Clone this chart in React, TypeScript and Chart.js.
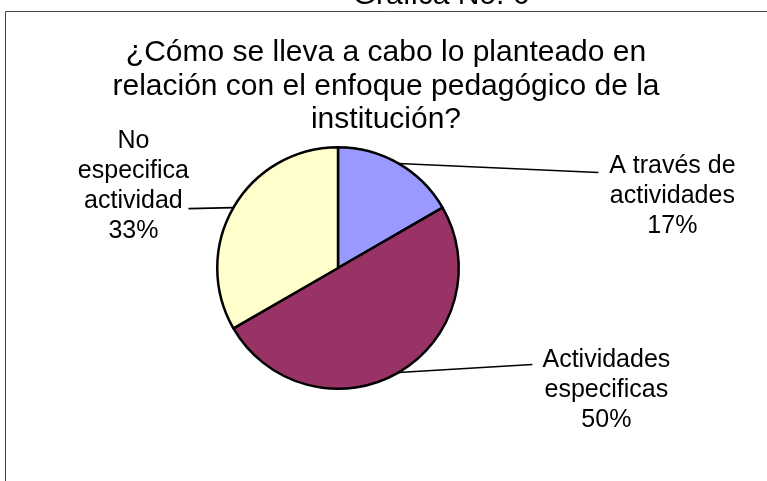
import React, { useEffect, useRef } from "react";
import { Chart, registerables } from "chart.js";

Chart.register(...registerables);

const categories: string[][] = [
  ["A través de", "actividades"],
  ["Actividades", "especificas"],
  ["No", "especifica", "actividad"],
];
const values: number[] = [1, 3, 2];
const sliceColors: string[] = ["#9999FF", "#993366", "#FFFFCC"];
const titleLines: string[] = [
  "¿Cómo se lleva a cabo lo planteado en",
  "relación con el enfoque pedagógico de la",
  "institución?",
];
const headerText = "Gráfica No. 6";

// leader / label layout relative to each slice's rim midpoint
const labelLayout = [
  { leadDx: 200, leadDy: 9, textDx: 74, baseDy: 1 },
  { leadDx: 134, leadDy: -8, textDx: 74, baseDy: 2 },
  { leadDx: -45, leadDy: 1, textDx: -55, baseDy: -61 },
];

const FONT = '"Liberation Sans", Arial, sans-serif';

const decorPlugin = {
  id: "decor",
  afterDraw(chart: any) {
    const ctx = chart.ctx as CanvasRenderingContext2D;
    const W = chart.width;
    const H = chart.height;
    ctx.save();
    // frame
    ctx.strokeStyle = "#444444";
    ctx.lineWidth = 1;
    ctx.beginPath();
    ctx.moveTo(5.5, H);
    ctx.lineTo(5.5, 11.5);
    ctx.lineTo(W, 11.5);
    ctx.stroke();

    // header (cut off at top)
    ctx.fillStyle = "#000";
    ctx.textAlign = "center";
    ctx.textBaseline = "alphabetic";
    ctx.font = `30px ${FONT}`;
    ctx.fillText(headerText, 441, 4);

    // title
    ctx.font = `30px ${FONT}`;
    const baselines = [61, 95, 128];
    titleLines.forEach((t, i) => ctx.fillText(t, 386, baselines[i]));

    // labels with leader lines
    const meta = chart.getDatasetMeta(0);
    const total = values.reduce((a, b) => a + b, 0);
    ctx.font = `25px ${FONT}`;
    meta.data.forEach((arc: any, i: number) => {
      const p = arc.getProps(["x", "y", "startAngle", "endAngle", "outerRadius"], true);
      const mid = (p.startAngle + p.endAngle) / 2;
      const rx = p.x + p.outerRadius * Math.cos(mid);
      const ry = p.y + p.outerRadius * Math.sin(mid);
      const L = labelLayout[i];
      const ex = rx + L.leadDx;
      const ey = ry + L.leadDy;
      ctx.strokeStyle = "#000";
      ctx.lineWidth = 1.6;
      ctx.beginPath();
      ctx.moveTo(rx, ry);
      ctx.lineTo(ex, ey);
      ctx.stroke();
      const pct = Math.round((values[i] / total) * 100) + "%";
      const lines = [...categories[i], pct];
      lines.forEach((t, j) => {
        ctx.fillText(t, ex + L.textDx, ey + L.baseDy + j * 30);
      });
    });
    ctx.restore();
  },
};

export default function App() {
  const ref = useRef<HTMLCanvasElement>(null);
  useEffect(() => {
    if (!ref.current) return;
    const chart = new Chart(ref.current, {
      type: "pie",
      data: {
        labels: categories.map((c) => c.join(" ")),
        datasets: [
          {
            data: values,
            backgroundColor: sliceColors,
            borderColor: "#000000",
            borderWidth: 2.5,
          },
        ],
      },
      options: {
        responsive: false,
        animation: false,
        devicePixelRatio: 1,
        layout: { padding: { left: 216, top: 146, right: 307, bottom: 91 } },
        plugins: {
          legend: { display: false },
          title: { display: false },
          tooltip: { enabled: false },
        },
      },
      plugins: [decorPlugin],
    });
    return () => chart.destroy();
  }, []);
  return (
    <div style={{ position: "fixed", left: 0, top: 0, width: 767, height: 481, background: "#fff" }}>
      <canvas ref={ref} width={767} height={481} style={{ width: 767, height: 481, display: "block" }} />
    </div>
  );
}
